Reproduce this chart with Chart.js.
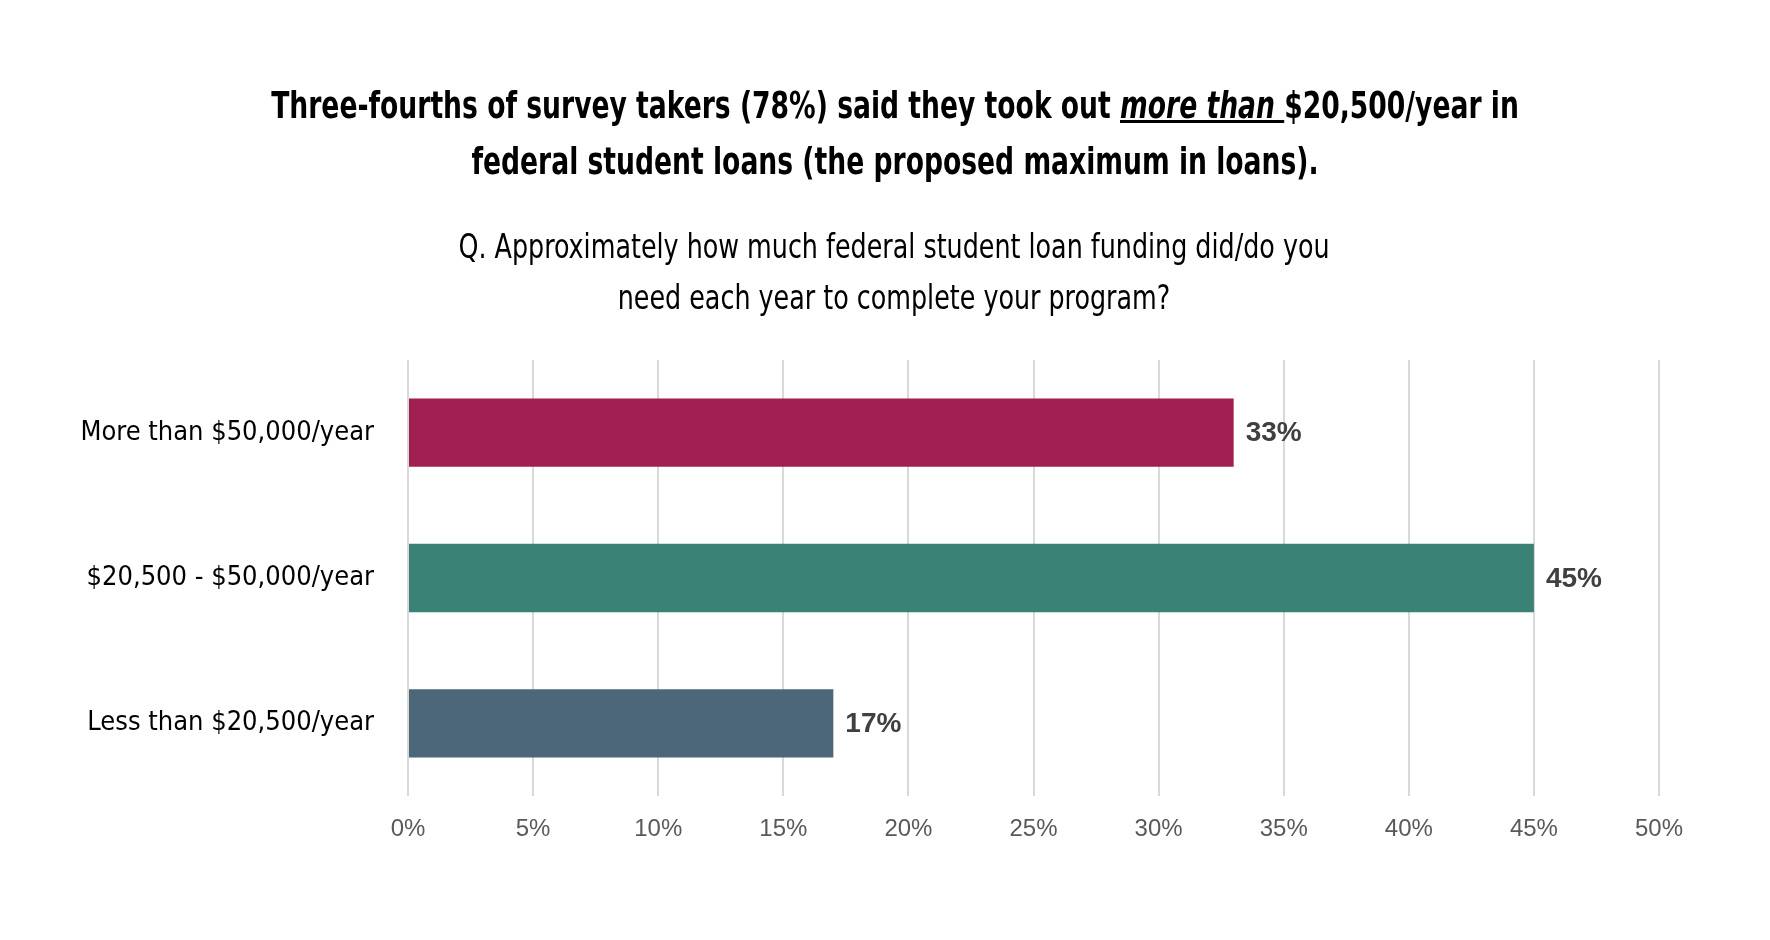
<html>
  <head>
    <script type="text/javascript" src="https://cdn.jsdelivr.net/npm/chart.js@4.4.0/dist/chart.umd.min.js"></script>
    <style>
      body { margin: 0; background: #fff; }
      #wrap { position: relative; width: 1770px; height: 940px; }
      canvas { position: absolute; left: 0; top: 0; }
      .head { position: absolute; left: 0; width: 1770px; text-align: center; color: #000;
              font-family: "Liberation Sans Narrow", "DejaVu Sans Condensed", sans-serif;
              transform-origin: 885px 0; }
      #title { top: 77px; font-size: 38px; font-weight: bold; line-height: 56px;
               transform: translateX(10px) scaleX(0.778); }
      #subtitle { top: 221px; font-size: 33px; line-height: 51px;
                  transform: translateX(9px) scaleX(0.855); }
    </style>
  </head>
  <body>
    <div id="wrap">
      <canvas id="chart" width="1770" height="940"></canvas>
      <div class="head" id="title">Three-fourths of survey takers (78%) said they took out <u><i>more than </i></u>$20,500/year in<br>federal student loans (the proposed maximum in loans).</div>
      <div class="head" id="subtitle">Q. Approximately how much federal student loan funding did/do you<br>need each year to complete your program?</div>
    </div>

    <script type="text/javascript">

// data
var categories = ["More than $50,000/year", "$20,500 - $50,000/year", "Less than $20,500/year"]
var shares = [33, 45, 17]
var tick_max = 50
var tick_step = 5

var bar_colors = ["#a01e51", "#3a8276", "#4b6779"]

// writes "33%" etc. just past the end of each bar
var value_labels = {
  id: "value_labels",
  afterDatasetsDraw: function(chart) {
    var ctx = chart.ctx
    var meta = chart.getDatasetMeta(0)
    ctx.save()
    ctx.font = "bold 28px 'Liberation Sans', Arial, sans-serif"
    ctx.fillStyle = "#404040"
    ctx.textAlign = "left"
    ctx.textBaseline = "middle"
    meta.data.forEach(function(bar, i) {
      ctx.fillText(shares[i] + "%", bar.x + 12, bar.y + 1)
    })
    ctx.restore()
  }
}

function draw_barchart(element_id) {
  var ctx = document.getElementById(element_id).getContext("2d")

  var config = {
    type: "bar",
    data: {
      labels: categories,
      datasets: [{
        data: shares,
        backgroundColor: bar_colors,
        borderWidth: 0,
        barPercentage: 0.47,
        categoryPercentage: 1.0
      }]
    },
    options: {
      indexAxis: "y",
      responsive: false,
      animation: false,
      devicePixelRatio: 1,
      layout: { padding: { top: 360, right: 111, left: 0, bottom: 0 } },
      plugins: {
        legend: { display: false },
        tooltip: { enabled: false }
      },
      scales: {
        x: {
          min: 0,
          max: tick_max,
          afterFit: function(scale) { scale.height = 144 },
          grid: { color: "#d9d9d9", lineWidth: 2, drawTicks: false },
          border: { display: false },
          ticks: {
            stepSize: tick_step,
            padding: 19,
            color: "#595959",
            font: { family: "'Liberation Sans', Arial, sans-serif", size: 24 },
            callback: function(v) { return v + "%" }
          }
        },
        y: {
          afterFit: function(scale) { scale.width = 408 },
          grid: { display: false },
          border: { display: false },
          ticks: {
            padding: 26,
            color: "#000",
            font: { family: "'Liberation Sans Narrow', 'DejaVu Sans Condensed', sans-serif", size: 27 }
          }
        }
      }
    },
    plugins: [value_labels]
  }

  var chart = new Chart(ctx, config)
}

draw_barchart("chart")

    </script>
  </body>
</html>
